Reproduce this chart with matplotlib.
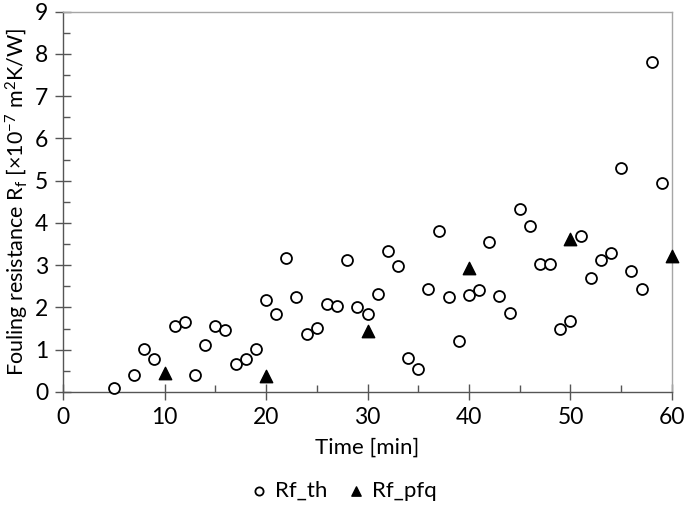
import matplotlib
matplotlib.use("Agg")
import matplotlib.pyplot as plt
from matplotlib.ticker import MultipleLocator

# Rf_th: theoretical fouling resistance, every minute (no value at 6 min)
time_th = [5, 7, 8, 9, 11, 12, 13, 14, 15, 16, 17, 18, 19, 20, 21, 22, 23, 24, 25,
           26, 27, 28, 29, 30, 31, 32, 33, 34, 35, 36, 37, 38, 39, 40, 41, 42, 43,
           44, 45, 46, 47, 48, 49, 50, 51, 52, 53, 54, 55, 56, 57, 58, 59]
rf_th = [0.09, 0.39, 1.01, 0.77, 1.57, 1.65, 0.41, 1.11, 1.56, 1.47, 0.65, 0.77,
         1.02, 2.18, 1.85, 3.16, 2.24, 1.37, 1.52, 2.08, 2.04, 3.12, 2.00, 1.85,
         2.33, 3.33, 2.97, 0.80, 0.54, 2.43, 3.80, 2.25, 1.21, 2.29, 2.41, 3.55,
         2.28, 1.88, 4.34, 3.94, 3.03, 3.02, 1.50, 1.67, 3.69, 2.70, 3.13, 3.28,
         5.30, 2.86, 2.43, 7.80, 4.95]

# Rf_pfq: measured values every 10 minutes
time_pfq = [10, 20, 30, 40, 50, 60]
rf_pfq = [0.45, 0.37, 1.45, 2.93, 3.63, 3.21]

plt.rcParams["font.family"] = ["Lato", "DejaVu Sans"]
plt.rcParams["mathtext.default"] = "regular"

fig = plt.figure(figsize=(6.85, 5.11), dpi=100)
ax = fig.add_axes([0.092, 0.233, 0.889, 0.744])

ax.scatter(time_th, rf_th, s=62, marker="o", facecolors="white",
           edgecolors="black", linewidths=1.3, label="Rf_th", zorder=3, clip_on=False)
ax.scatter(time_pfq, rf_pfq, s=80, marker="^", color="black",
           label="Rf_pfq", zorder=4, clip_on=False)

ax.set_xlim(0, 60)
ax.set_ylim(0, 9)
ax.xaxis.set_major_locator(MultipleLocator(10))
ax.xaxis.set_minor_locator(MultipleLocator(5))
ax.yaxis.set_major_locator(MultipleLocator(1))
ax.yaxis.set_minor_locator(MultipleLocator(0.5))

# Excel-like axes: major ticks cross the axis, minor ticks point inward
ax.tick_params(which="major", direction="inout", length=11, width=1.0,
               color="#555555", labelsize=16.5, pad=5)
ax.tick_params(which="minor", direction="in", length=5, width=1.0, color="#555555")

for side in ["left", "bottom"]:
    ax.spines[side].set_color("#555555")
    ax.spines[side].set_linewidth(1.0)
for side in ["top", "right"]:
    ax.spines[side].set_color("#a6a6a6")
    ax.spines[side].set_linewidth(1.0)

ax.set_xlabel("Time [min]", fontsize=16, labelpad=7)
ax.set_ylabel("Fouling resistance R$_f$ [×10$^{-7}$ m$^2$K/W]", fontsize=15.5, labelpad=3)

fig.legend(loc="center", bbox_to_anchor=(0.5, 0.04), ncol=2, frameon=False,
           fontsize=16, handlelength=1.0, handletextpad=0.2, columnspacing=0.8,
           markerscale=0.75)

fig.savefig("out.png", dpi=100)
